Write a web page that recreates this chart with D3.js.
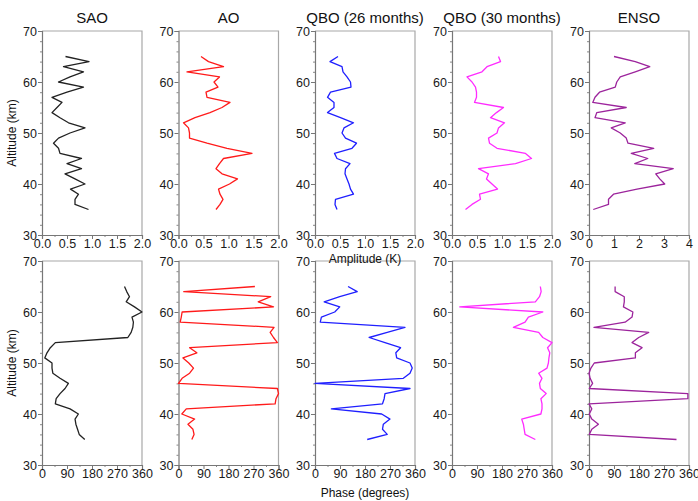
<!DOCTYPE html>
<html>
<head>
<meta charset="utf-8">
<script src="https://cdn.jsdelivr.net/npm/d3@7"></script>
<style>
  html, body { margin: 0; padding: 0; background: #fff; }
  svg { display: block; font-family: "Liberation Sans", Arial, sans-serif; }
</style>
</head>
<body>
<svg id="chart" width="698" height="501"></svg>
<script>
// Altitude levels (km), top to bottom
const altitudes = [65,64,63,62,61,60,59,58,57,56,55,54,53,52,51,50,49,48,47,46,45,44,43,42,41,40,39,38,37,36,35];

const titles = ["SAO", "AO", "QBO (26 months)", "QBO (30 months)", "ENSO"];
const colors = ["#222222", "#ff1a1a", "#1f1fff", "#ff2bff", "#9c249c"];

// Amplitude (K) for each oscillation
const ampSAO  = [0.47,0.94,0.43,0.83,0.56,0.33,0.83,0.50,0.20,0.40,0.30,0.20,0.36,0.53,0.86,0.56,0.33,0.23,0.33,0.36,0.79,0.50,0.79,0.46,0.66,0.86,0.57,0.73,0.66,0.66,0.93];
const ampAO   = [0.45,0.60,0.90,0.17,0.82,0.71,0.79,0.55,0.57,1.03,0.87,0.63,0.33,0.10,0.20,0.22,0.22,0.57,0.97,1.47,0.90,0.82,0.75,0.87,1.18,1.02,0.80,0.83,0.89,0.83,0.75];
const ampQBO26 = [0.46,0.30,0.54,0.56,0.64,0.71,0.72,0.31,0.25,0.38,0.38,0.25,0.51,0.77,0.58,0.54,0.61,0.83,0.74,0.39,0.44,0.70,0.61,0.60,0.64,0.68,0.71,0.77,0.41,0.40,0.44];
const ampQBO30 = [0.93,0.97,0.70,0.60,0.30,0.40,0.47,0.49,0.49,0.45,1.03,0.89,0.77,1.05,0.93,0.90,0.73,0.75,0.90,1.47,1.59,1.27,0.53,0.73,0.69,0.80,0.91,0.55,0.57,0.40,0.27];
const ampENSO = [1.00,1.85,2.43,1.85,1.25,1.11,1.05,0.42,0.24,0.15,1.49,0.31,0.24,1.45,0.89,1.25,1.49,1.56,2.59,1.69,2.35,1.83,3.37,2.67,2.83,3.03,1.92,0.98,0.78,0.78,0.17];

// Phase (degrees) for each oscillation
const phaseSAO  = [297,305,315,303,333,360,324,329,327,321,309,48,30,18,10,36,36,39,65,95,83,65,51,48,101,131,119,122,128,134,154];
const phaseAO   = [275,19,332,287,342,13,10,6,344,330,342,356,40,66,16,37,54,40,13,0,356,360,351,348,28,12,58,34,52,56,48];
const phaseQBO26 = [119,152,89,33,89,71,23,19,324,260,195,252,308,291,294,342,350,342,318,0,342,252,249,243,59,240,270,246,243,260,188];
const phaseQBO30 = [318,321,315,300,28,327,275,263,221,312,327,360,344,352,349,347,342,312,324,315,318,339,320,324,324,320,251,257,260,263,300];
const phaseENSO = [94,94,127,127,124,158,155,130,18,215,179,155,191,167,167,19,7,0,4,13,1,356,356,0,10,1,10,34,10,1,315];

// Axis ticks
const altTicks = [30, 40, 50, 60, 70];
const ampTicks = [0, 0.5, 1.0, 1.5, 2.0];
const ensoAmpTicks = [0, 1, 2, 3, 4];
const phaseTicks = [0, 90, 180, 270, 360];

const ampSeries = [ampSAO, ampAO, ampQBO26, ampQBO30, ampENSO];
const phaseSeries = [phaseSAO, phaseAO, phaseQBO26, phaseQBO30, phaseENSO];

const svg = d3.select("#chart");

const panelLefts = [42, 178.5, 315, 452, 589];
const panelW = 100;
const rows = [
  { top: 31, bottom: 235, series: ampSeries, kind: "amp" },
  { top: 261, bottom: 465, series: phaseSeries, kind: "phase" }
];

rows.forEach((row, ri) => {
  const y = d3.scaleLinear().domain([30, 70]).range([row.bottom, row.top]);
  row.series.forEach((vals, i) => {
    const x0 = panelLefts[i], x1 = x0 + panelW;
    let domain, ticks, fmt, minorStep;
    if (row.kind === "amp") {
      if (i === 4) { domain = [0, 4]; ticks = ensoAmpTicks; fmt = d3.format("d"); minorStep = 0.5; }
      else { domain = [0, 2]; ticks = ampTicks; fmt = d3.format(".1f"); minorStep = 0.25; }
    } else {
      domain = [0, 360]; ticks = phaseTicks; fmt = d3.format("d"); minorStep = 45;
    }
    const x = d3.scaleLinear().domain(domain).range([x0, x1]);
    const g = svg.append("g");

    // frame: top and right edges
    g.append("path")
      .attr("d", `M${x0},${row.top}H${x1}V${row.bottom}`)
      .attr("fill", "none").attr("stroke", "#a8a8a8").attr("stroke-width", 1.2);

    // minor ticks
    const yMinor = d3.range(32, 70, 2).filter(v => v % 10 !== 0);
    g.append("g").attr("transform", `translate(${x0},0)`)
      .call(d3.axisLeft(y).tickValues(yMinor).tickSize(2).tickFormat(""))
      .call(s => s.select(".domain").remove())
      .selectAll("line").attr("stroke", "#888");
    const xMinor = d3.range(domain[0] + minorStep, domain[1], minorStep)
      .filter(v => !ticks.some(t => Math.abs(t - v) < 1e-9));
    g.append("g").attr("transform", `translate(0,${row.bottom})`)
      .call(d3.axisBottom(x).tickValues(xMinor).tickSize(2).tickFormat(""))
      .call(s => s.select(".domain").remove())
      .selectAll("line").attr("stroke", "#888");

    // major axes
    const ay = g.append("g").attr("transform", `translate(${x0},0)`)
      .call(d3.axisLeft(y).tickValues(altTicks).tickSize(4).tickPadding(1).tickFormat(d3.format("d")));
    const ax = g.append("g").attr("transform", `translate(0,${row.bottom})`)
      .call(d3.axisBottom(x).tickValues(ticks).tickSize(4).tickPadding(0).tickFormat(fmt));
    [ay, ax].forEach(a => {
      a.select(".domain").attr("stroke", "#777").attr("stroke-width", 1.2);
      a.selectAll(".tick line").attr("stroke", "#777");
      a.selectAll(".tick text").attr("fill", "#1a1a1a").style("font-size", "12.5px")
        .style("font-family", "'Liberation Sans', Arial, sans-serif");
    });

    // profile line
    const line = d3.line().x(d => x(d.v)).y(d => y(d.a));
    const pts = altitudes.map((a, k) => ({ a, v: vals[k] }));
    g.append("path").datum(pts)
      .attr("d", line)
      .attr("fill", "none")
      .attr("stroke", colors[i])
      .attr("stroke-width", 1.3)
      .attr("stroke-linejoin", "round");

    if (ri === 0) {
      svg.append("text")
        .attr("x", x0 + panelW / 2).attr("y", 23)
        .attr("text-anchor", "middle")
        .attr("fill", "#111")
        .style("font-size", "15px")
        .text(titles[i]);
    }
  });

  svg.append("text")
    .attr("transform", `translate(16,${(row.top + row.bottom) / 2}) rotate(-90)`)
    .attr("text-anchor", "middle")
    .attr("fill", "#111")
    .style("font-size", "12px")
    .text("Altitude (km)");
});

svg.append("text")
  .attr("x", panelLefts[2] + panelW / 2).attr("y", 263)
  .attr("text-anchor", "middle").attr("fill", "#111")
  .style("font-size", "12px")
  .text("Amplitude (K)");

svg.append("text")
  .attr("x", panelLefts[2] + panelW / 2).attr("y", 497)
  .attr("text-anchor", "middle").attr("fill", "#111")
  .style("font-size", "12px")
  .text("Phase (degrees)");
</script>
</body>
</html>
